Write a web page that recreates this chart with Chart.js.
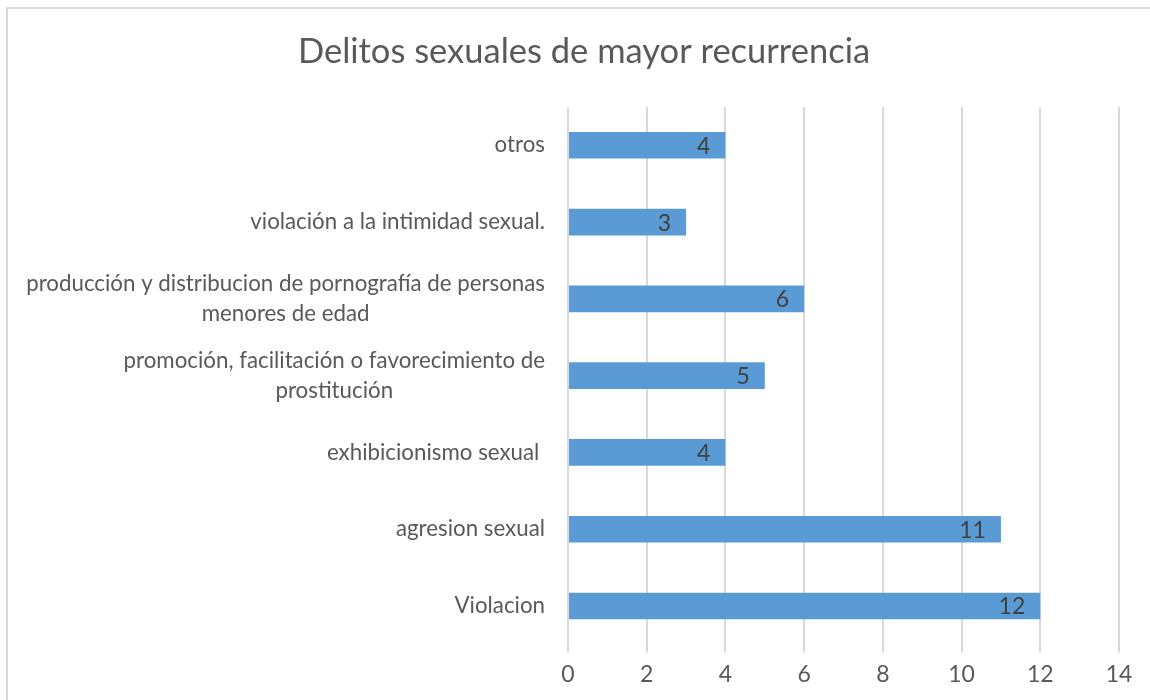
<!DOCTYPE html>
<html>
<head>
<meta charset="utf-8">
<script src="https://cdn.jsdelivr.net/npm/chart.js@4/dist/chart.umd.min.js"></script>
<style>
  html, body { margin: 0; padding: 0; background: #ffffff; }
  #wrap { position: relative; width: 1150px; height: 700px; overflow: hidden; }
  #frame { position: absolute; left: 6px; top: 7px; width: 1200px; height: 800px;
           border-left: 2px solid #d9d9d9; border-top: 2px solid #d9d9d9; }
  canvas { position: absolute; left: 0; top: 0; }
</style>
</head>
<body>
<div id="wrap">
  <div id="frame"></div>
  <canvas id="c" width="1150" height="700"></canvas>
</div>
<script>
const chartTitle = "Delitos sexuales de mayor recurrencia";
const categories = [
  "otros",
  "violación a la intimidad sexual.",
  ["producción y distribucion de pornografía de personas", "menores de edad"],
  ["promoción, facilitación o favorecimiento de", "prostitución"],
  "exhibicionismo sexual ",
  "agresion sexual",
  "Violacion"
];
const values = [4, 3, 6, 5, 4, 11, 12];
const xTicks = [0, 2, 4, 6, 8, 10, 12, 14];

const FONT = "Lato, 'Open Sans', sans-serif";
const TEXT = "#595959";

const labelPlugin = {
  id: 'customLabels',
  afterDatasetsDraw(chart) {
    const ctx = chart.ctx;
    const meta = chart.getDatasetMeta(0);
    ctx.save();
    ctx.font = "23px " + FONT;
    ctx.fillStyle = "#404040";
    ctx.textAlign = "right";
    ctx.textBaseline = "middle";
    meta.data.forEach((bar, i) => {
      ctx.fillText(String(values[i]), bar.x - 15, bar.y + 1);
    });
    ctx.restore();
  },
  afterDraw(chart) {
    const ctx = chart.ctx;
    const yScale = chart.scales.y;
    const rightX = chart.chartArea.left - 23;
    ctx.save();
    ctx.font = "22.3px " + FONT;
    ctx.fillStyle = TEXT;
    ctx.textBaseline = "middle";
    categories.forEach((lab, i) => {
      const yc = yScale.getPixelForValue(i);
      const lines = Array.isArray(lab) ? lab : [lab];
      const widths = lines.map(l => ctx.measureText(l).width);
      const blockW = Math.max(...widths);
      const lh = 30;
      const y0 = yc - (lines.length - 1) * lh / 2;
      ctx.textAlign = "center";
      lines.forEach((l, k) => {
        ctx.fillText(l, rightX - blockW / 2, y0 + k * lh);
      });
    });
    ctx.restore();
  }
};

new Chart(document.getElementById('c'), {
  type: 'bar',
  data: {
    labels: categories,
    datasets: [{
      data: values,
      backgroundColor: '#5b9bd5',
      borderWidth: 0,
      barPercentage: 0.347,
      categoryPercentage: 1.0
    }]
  },
  options: {
    indexAxis: 'y',
    responsive: false,
    animation: false,
    devicePixelRatio: 1,
    layout: { padding: { left: 49, right: 31, top: 0, bottom: 4 } },
    plugins: {
      legend: { display: false },
      tooltip: { enabled: false },
      title: {
        display: true,
        text: chartTitle,
        color: TEXT,
        font: { family: FONT, size: 34.5, weight: 'normal' },
        padding: { top: 31, bottom: 34.5 }
      }
    },
    scales: {
      x: {
        min: 0, max: 14,
        afterBuildTicks(scale) { scale.ticks = xTicks.map(v => ({ value: v })); },
        ticks: {
          color: TEXT,
          font: { family: FONT, size: 23 },
          padding: 8,
          maxRotation: 0
        },
        grid: { color: '#d9d9d9', lineWidth: 2, tickLength: 8, drawTicks: true },
        border: { display: false }
      },
      y: {
        ticks: { display: false },
        grid: { display: false, drawTicks: false },
        border: { display: false },
        afterFit(scale) { scale.width = 519; }
      }
    }
  },
  plugins: [labelPlugin]
});
</script>
</body>
</html>
